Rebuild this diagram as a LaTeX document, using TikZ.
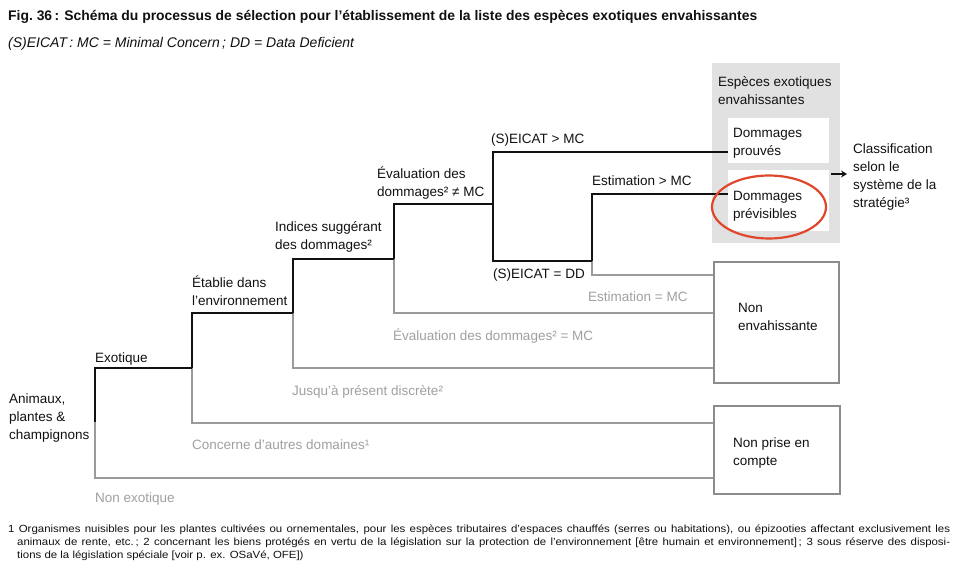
\documentclass[tikz,border=0pt]{standalone}
\usepackage{fontspec}
\setmainfont{Liberation Sans}
\newfontfamily\fnfont[FakeStretch=1.1]{Liberation Sans}
\usetikzlibrary{arrows.meta,shapes.geometric}
\definecolor{lnblack}{HTML}{111111}
\definecolor{lngray}{HTML}{9A9A9A}
\definecolor{txgray}{HTML}{A0A0A0}
\definecolor{boxgray}{HTML}{E1E1E1}
\definecolor{boxline}{HTML}{8C8C8C}
\definecolor{ringred}{HTML}{E0462C}
\begin{document}
\begin{tikzpicture}[x=1pt,y=-1pt,
  blk/.style={draw=lnblack,line width=2pt},
  gry/.style={draw=lngray,line width=1.8pt},
  lbl/.style={anchor=base west,inner sep=0pt,font=\fontsize{13.5}{18}\selectfont,align=left,text=lnblack},
  glbl/.style={lbl,text=txgray},
  endbox/.style={draw=boxline,line width=1.8pt,fill=white,anchor=north west,inner sep=0pt},
  whitebox/.style={fill=white,anchor=north west,inner sep=0pt},
  fnote/.style={anchor=base west,inner sep=0pt,font=\fnfont\fontsize{10.4}{13}\selectfont,text=lnblack}
]
\useasboundingbox (0,0) rectangle (960,575);
\fill[white] (0,0) rectangle (960,575);

% title
\node[anchor=base west,inner sep=0pt,font=\bfseries\fontsize{13.9}{16}\selectfont,text=lnblack] (title) at (8,21)
  {Fig.~36\,: Schéma du processus de sélection pour l’établissement de la liste des espèces exotiques envahissantes};
\node[anchor=base west,inner sep=0pt,font=\itshape\fontsize{14}{16}\selectfont,text=lnblack] (subtitle) at (8,48)
  {(S)EICAT\,: MC = Minimal Concern\,; DD = Data Deficient};

% result boxes
\node[fill=boxgray,anchor=north west,inner sep=0pt,minimum width=128pt,minimum height=180pt] (inv) at (712,63) {};
\node[whitebox,minimum width=101pt,minimum height=45pt] (dp) at (728,118) {};
\node[whitebox,minimum width=101pt,minimum height=61pt] (dv) at (728,170) {};
\node[endbox,minimum width=125pt,minimum height=121pt] (ne) at (713,261) {};
\node[endbox,minimum width=126pt,minimum height=88pt] (np) at (713,405) {};

% fork points
\coordinate (root) at (95,422);
\coordinate (f1) at (192,368);
\coordinate (f2) at (293,313);
\coordinate (f3) at (394,259);
\coordinate (f4) at (493,204);
\coordinate (f5) at (592,261);

% connectors
\draw[gry] (root) |- (np.west |- 0,478);
\draw[gry] (f1) |- (np.west |- 0,423);
\draw[gry] (f2) |- (ne.west |- 0,368);
\draw[gry] (f3) |- (ne.west |- 0,313);
\draw[gry] (f5) |- (ne.west |- 0,275);
\draw[blk] (root) |- (f1);
\draw[blk] (f1) |- (f2);
\draw[blk] (f2) |- (f3);
\draw[blk] (f3) |- (f4);
\draw[blk] (f4) |- (dp.west |- 0,152);
\draw[blk] (f4) |- (f5);
\draw[blk] (f5) |- (dv.west |- 0,194);

% box texts (base anchor = baseline of last line)
\node[lbl] (invt) at (718,105) {Espèces exotiques\\envahissantes};
\node[lbl] (dpt) at (733,155) {Dommages\\prouvés};
\node[lbl] (dvt) at (733,218) {Dommages\\prévisibles};
\node[draw=ringred,line width=2.2pt,ellipse,minimum width=114pt,minimum height=63pt,inner sep=0pt] (ring) at (769,207) {};
\node[lbl] (net) at (738,330) {Non\\envahissante};
\node[lbl] (npt) at (733,465) {Non prise en\\compte};
\node[lbl] (cls) at (853,207) {Classification\\selon le\\système de la\\stratégie³};
\draw[lnblack,line width=2pt,-{Stealth[length=6pt,width=7pt]}] ([xshift=-9pt]inv.east |- 0,174) -- ([xshift=-6pt]cls.west |- 0,174);

% branch labels
\node[lbl] (start) at (9,439) {Animaux,\\plantes \&\\champignons};
\node[lbl] (exo) at (95,362) {Exotique};
\node[glbl] (nexo) at (95,502) {Non exotique};
\node[lbl] (etab) at (192,305) {Établie dans\\l’environnement};
\node[glbl] (autre) at (192,449) {Concerne d’autres domaines¹};
\node[lbl] (ind) at (275,249) {Indices suggérant\\des dommages²};
\node[glbl] (disc) at (292,395) {Jusqu’à présent discrète²};
\node[lbl] (eval) at (377,196) {Évaluation des\\dommages² ≠ MC};
\node[glbl] (evalmc) at (393,340) {Évaluation des dommages² = MC};
\node[lbl] (smc) at (491,143) {(S)EICAT > MC};
\node[lbl] (sdd) at (493,278) {(S)EICAT = DD};
\node[lbl] (emc) at (592,185) {Estimation > MC};
\node[glbl] (eeq) at (588,301) {Estimation = MC};

% footnotes
\node[fnote] (fn1) at (8,532) {\makebox[942pt][s]{1 Organismes nuisibles pour les plantes cultivées ou ornementales, pour les espèces tributaires d’espaces chauffés (serres ou habitations), ou épizooties affectant exclusivement les}};
\node[fnote] (fn2) at (17,545) {\makebox[933pt][s]{animaux de rente, etc.\,; 2 concernant les biens protégés en vertu de la législation sur la protection de l’environnement [être humain et environnement]\,; 3 sous réserve des disposi-}};
\node[fnote] (fn3) at (17,558) {tions de la législation spéciale [voir p. ex. OSaVé, OFE])};
\end{tikzpicture}
\end{document}
